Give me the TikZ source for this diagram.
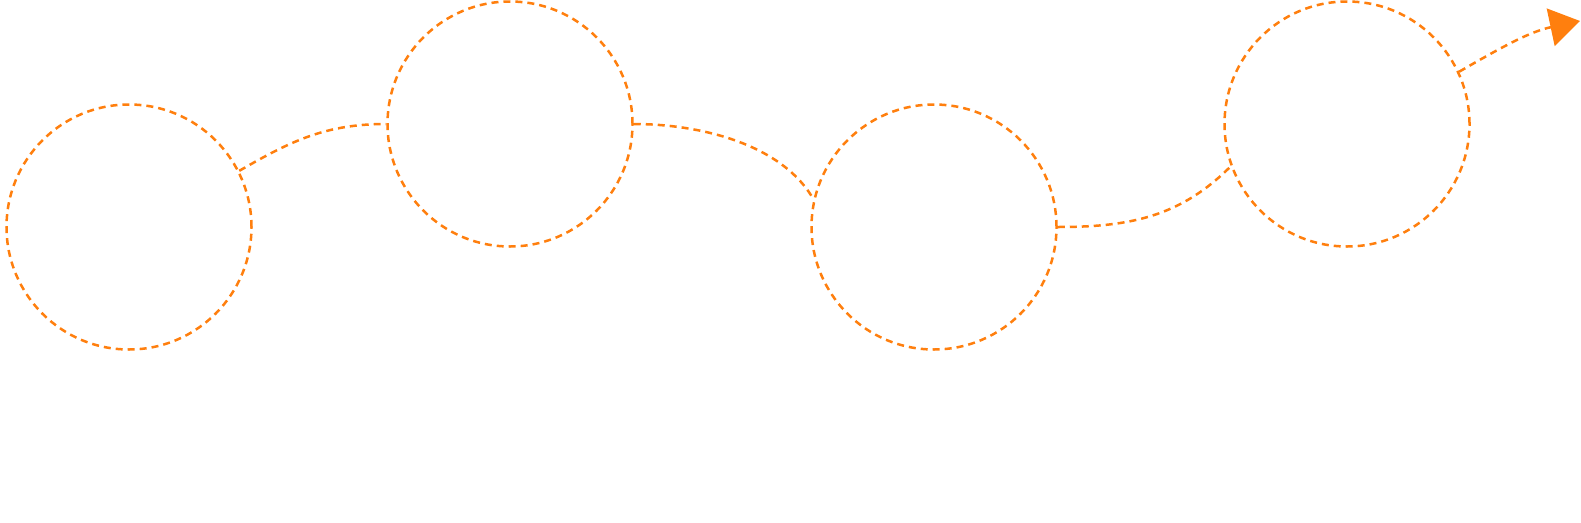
\documentclass[tikz,border=0pt]{standalone}
\usepackage{tikz}
\usetikzlibrary{arrows.meta}
\definecolor{tourorange}{RGB}{255,127,14}
\tikzstyle{ring}=[circle,draw=tourorange,line width=2.5pt,dash pattern=on 7pt off 5pt,minimum size=245pt,inner sep=0pt]
\tikzstyle{hop}=[draw=tourorange,line width=2.5pt,dash pattern=on 7pt off 5pt]

\begin{document}
\begin{tikzpicture}[x=1pt,y=-1pt]
  \useasboundingbox (0,0) rectangle (1581,522);
  \node[ring] (r1) at (129,227) {};
  \node[ring] (r2) at (510,124) {};
  \node[ring] (r3) at (934,227) {};
  \node[ring] (r4) at (1347,124) {};
  \coordinate (goal) at (1580,21);

  \path[hop] (r1.27) to[out=30,in=180] (r2.west)
  	(r2.east) to[out=0,in=120,looseness=0.85] (r3.167)
  	(r3.east) to[out=0,in=225] (r4.200);
  \path[hop,-{Triangle[length=30pt,width=38pt]}] (r4.25) to[out=30,in=192] (goal);
\end{tikzpicture}
\end{document}
